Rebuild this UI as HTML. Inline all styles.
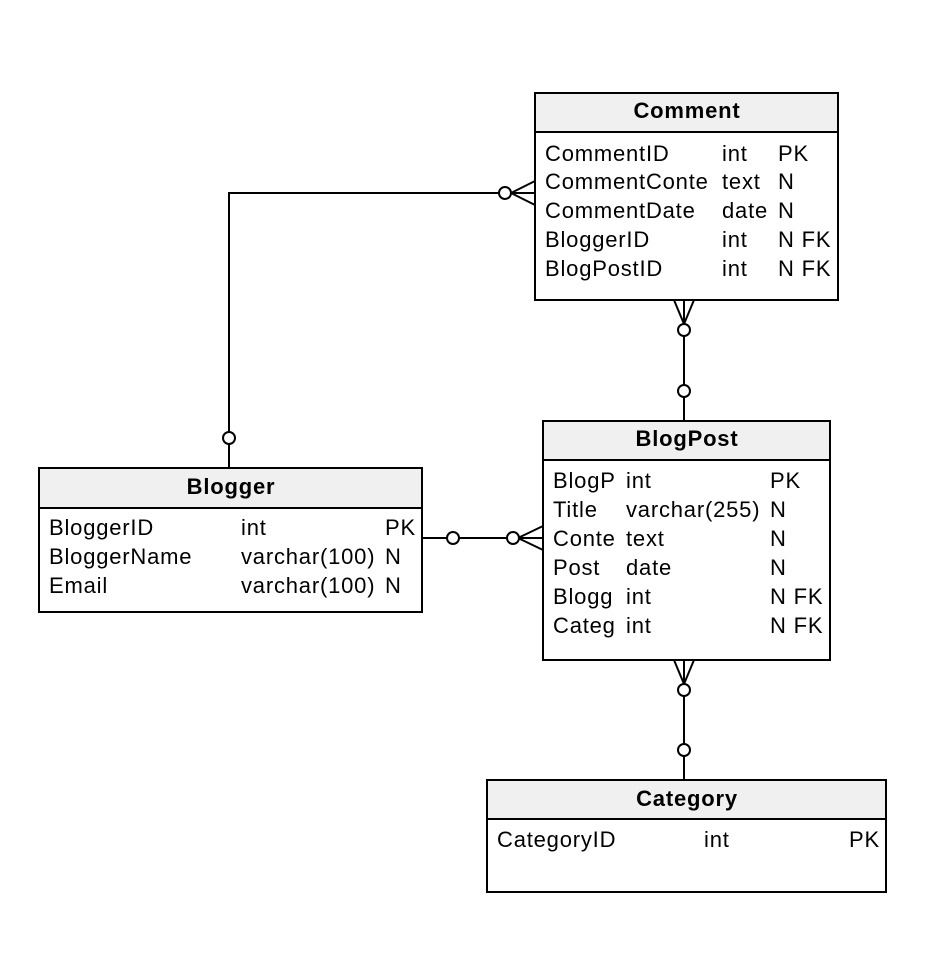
<!DOCTYPE html>
<html><head><style>
body{margin:0;background:#fff;}
svg text{font-family:"Liberation Sans",Arial,sans-serif;font-size:22px;letter-spacing:0.8px;fill:#000;}
.h{font-weight:bold;}
</style></head><body>
<svg width="940" height="974" xmlns="http://www.w3.org/2000/svg">
<g stroke="#000" stroke-width="2" fill="none">
<polyline points="229,468 229,193 535,193"/>
<circle cx="229" cy="438" r="6" fill="#fff"/>
<line x1="511" y1="193" x2="535" y2="181"/><line x1="511" y1="193" x2="535" y2="205"/>
<circle cx="505" cy="193" r="6" fill="#fff"/>
<line x1="684" y1="300" x2="684" y2="421"/>
<line x1="674" y1="300" x2="684" y2="324"/><line x1="694" y1="300" x2="684" y2="324"/>
<circle cx="684" cy="330" r="6" fill="#fff"/>
<circle cx="684" cy="391" r="6" fill="#fff"/>
<line x1="422" y1="538" x2="543" y2="538"/>
<circle cx="453" cy="538" r="6" fill="#fff"/>
<line x1="518" y1="538" x2="543" y2="526"/><line x1="518" y1="538" x2="543" y2="550"/>
<circle cx="513" cy="538" r="6" fill="#fff"/>
<line x1="684" y1="660" x2="684" y2="780"/>
<line x1="674" y1="660" x2="684" y2="684"/><line x1="694" y1="660" x2="684" y2="684"/>
<circle cx="684" cy="690" r="6" fill="#fff"/>
<circle cx="684" cy="750" r="6" fill="#fff"/>
<rect x="535" y="93" width="303" height="207" fill="#fff"/>
<rect x="535" y="93" width="303" height="39" fill="#f0f0f0"/>
<rect x="543" y="421" width="287" height="239" fill="#fff"/>
<rect x="543" y="421" width="287" height="39" fill="#f0f0f0"/>
<rect x="39" y="468" width="383" height="144" fill="#fff"/>
<rect x="39" y="468" width="383" height="40" fill="#f0f0f0"/>
<rect x="487" y="780" width="399" height="112" fill="#fff"/>
<rect x="487" y="780" width="399" height="39" fill="#f0f0f0"/>
</g>
<text class="h" x="687" y="118" text-anchor="middle">Comment</text>
<text x="545" y="161">CommentID</text><text x="722" y="161">int</text><text x="778" y="161">PK</text>
<text x="545" y="189">CommentConte</text><text x="722" y="189">text</text><text x="778" y="189">N</text>
<text x="545" y="218">CommentDate</text><text x="722" y="218">date</text><text x="778" y="218">N</text>
<text x="545" y="247">BloggerID</text><text x="722" y="247">int</text><text x="778" y="247">N FK</text>
<text x="545" y="276">BlogPostID</text><text x="722" y="276">int</text><text x="778" y="276">N FK</text>

<text class="h" x="687" y="446" text-anchor="middle">BlogPost</text>
<text x="553" y="488">BlogP</text><text x="626" y="488">int</text><text x="770" y="488">PK</text>
<text x="553" y="517">Title</text><text x="626" y="517">varchar(255)</text><text x="770" y="517">N</text>
<text x="553" y="546">Conte</text><text x="626" y="546">text</text><text x="770" y="546">N</text>
<text x="553" y="575">Post</text><text x="626" y="575">date</text><text x="770" y="575">N</text>
<text x="553" y="604">Blogg</text><text x="626" y="604">int</text><text x="770" y="604">N FK</text>
<text x="553" y="633">Categ</text><text x="626" y="633">int</text><text x="770" y="633">N FK</text>

<text class="h" x="231" y="494" text-anchor="middle">Blogger</text>
<text x="49" y="535">BloggerID</text><text x="241" y="535">int</text><text x="385" y="535">PK</text>
<text x="49" y="564">BloggerName</text><text x="241" y="564">varchar(100)</text><text x="385" y="564">N</text>
<text x="49" y="593">Email</text><text x="241" y="593">varchar(100)</text><text x="385" y="593">N</text>

<text class="h" x="687" y="806" text-anchor="middle">Category</text>
<text x="497" y="847">CategoryID</text><text x="704" y="847">int</text><text x="849" y="847">PK</text>
</svg>
</body></html>
